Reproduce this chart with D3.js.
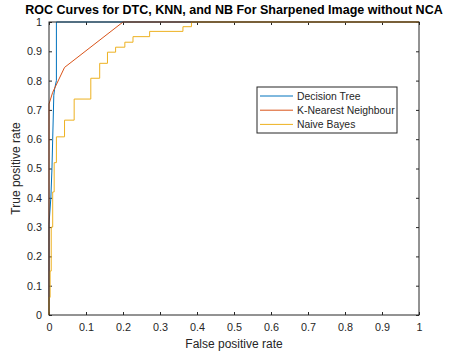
<!DOCTYPE html>
<html>
<head>
<meta charset="utf-8">
<script src="https://cdn.jsdelivr.net/npm/d3@7"></script>
<style>
  body { margin: 0; background: #fff; }
  text { font-family: "Liberation Sans", Arial, sans-serif; fill: #262626; }
</style>
</head>
<body>
<div id="chart"></div>
<script>
// values: [false positive rate, true positive rate]
const dtcFpr = [0, 0, 0.005, 0.008, 0.01, 0.013, 0.015, 0.02, 0.02, 1];
const dtcTpr = [0, 0.31, 0.4, 0.5, 0.6, 0.75, 0.77, 0.8, 1, 1];

const knnFpr = [0, 0, 0.01, 0.042, 0.2, 1];
const knnTpr = [0, 0.72, 0.76, 0.845, 1, 1];

const nbFpr = [0, 0, 0.003, 0.003, 0.006, 0.006, 0.01, 0.01, 0.014, 0.014, 0.02, 0.02,
  0.042, 0.042, 0.068, 0.068, 0.113, 0.113, 0.137, 0.137, 0.158, 0.158, 0.18, 0.18,
  0.205, 0.205, 0.227, 0.227, 0.272, 0.272, 0.362, 0.362, 0.385, 0.385, 1];
const nbTpr = [0, 0.06, 0.06, 0.15, 0.15, 0.3, 0.3, 0.42, 0.42, 0.52, 0.52, 0.608,
  0.608, 0.665, 0.665, 0.737, 0.737, 0.808, 0.808, 0.859, 0.859, 0.897, 0.897, 0.914,
  0.914, 0.931, 0.931, 0.95, 0.95, 0.968, 0.968, 0.984, 0.984, 1, 1];

const seriesNames = ['Decision Tree', 'K-Nearest Neighbour', 'Naive Bayes'];
const seriesColors = ['#0072BD', '#D95319', '#EDB120'];
const ticks = d3.range(0, 11).map(i => i / 10);

const w = 451, h = 356;
const m = { t: 22, r: 32, b: 41, l: 49 };
const innerW = w - m.l - m.r;
const innerH = h - m.t - m.b;

const svg = d3.select('#chart').append('svg').attr('width', w).attr('height', h);
const g = svg.append('g').attr('transform', `translate(${m.l},${m.t})`);

const x = d3.scaleLinear().domain([0, 1]).range([0, innerW]);
const y = d3.scaleLinear().domain([0, 1]).range([innerH, 0]);

const fmt = d => d === 0 ? '0' : d === 1 ? '1' : d3.format('.1f')(d);

function styleAxis(sel, labels) {
  sel.select('.domain').remove();
  sel.selectAll('line').attr('stroke', '#262626');
  sel.selectAll('text').attr('font-size', 10.8).style('fill', '#262626');
  if (!labels) sel.selectAll('text').remove();
}

g.append('g').attr('transform', `translate(0,${innerH})`)
  .call(d3.axisBottom(x).tickValues(ticks).tickFormat(fmt).tickSizeInner(-3).tickSizeOuter(0).tickPadding(8))
  .call(s => styleAxis(s, true));
g.append('g')
  .call(d3.axisLeft(y).tickValues(ticks).tickFormat(fmt).tickSizeInner(-3).tickSizeOuter(0).tickPadding(7))
  .call(s => styleAxis(s, true));
g.append('g')
  .call(d3.axisTop(x).tickValues(ticks).tickSizeInner(-3).tickSizeOuter(0))
  .call(s => styleAxis(s, false));
g.append('g').attr('transform', `translate(${innerW},0)`)
  .call(d3.axisRight(y).tickValues(ticks).tickSizeInner(-3).tickSizeOuter(0))
  .call(s => styleAxis(s, false));

const line = d3.line().x(d => x(d[0])).y(d => y(d[1]));
const series = [
  d3.zip(dtcFpr, dtcTpr),
  d3.zip(knnFpr, knnTpr),
  d3.zip(nbFpr, nbTpr)
];
series.forEach((pts, i) => {
  g.append('path').datum(pts)
    .attr('d', line)
    .attr('fill', 'none')
    .attr('stroke', seriesColors[i])
    .attr('stroke-width', 1);
});

// box
g.append('rect').attr('x', 0).attr('y', 0).attr('width', innerW).attr('height', innerH)
  .attr('fill', 'none').attr('stroke', '#262626').attr('stroke-width', 1);

// legend
const lg = svg.append('g').attr('transform', 'translate(257,87)');
lg.append('rect').attr('width', 140).attr('height', 46)
  .attr('fill', '#fff').attr('stroke', '#262626').attr('stroke-width', 1);
seriesNames.forEach((name, i) => {
  const yy = 9 + i * 14.2;
  lg.append('line').attr('x1', 3).attr('x2', 36).attr('y1', yy).attr('y2', yy)
    .attr('stroke', seriesColors[i]).attr('stroke-width', 1);
  lg.append('text').attr('x', 40).attr('y', yy).attr('dy', '0.35em')
    .attr('font-size', 10.4).text(name);
});

svg.append('text').attr('x', 234).attr('y', 14).attr('text-anchor', 'middle')
  .attr('font-size', 12.5).attr('font-weight', 'bold').style('fill', '#000')
  .text('ROC Curves for DTC, KNN, and NB For Sharpened Image without NCA');

svg.append('text').attr('x', m.l + innerW / 2).attr('y', 348).attr('text-anchor', 'middle')
  .attr('font-size', 12).text('False positive rate');

svg.append('text').attr('transform', `translate(20,${m.t + innerH / 2}) rotate(-90)`)
  .attr('text-anchor', 'middle').attr('font-size', 12).text('True positive rate');
</script>
</body>
</html>
